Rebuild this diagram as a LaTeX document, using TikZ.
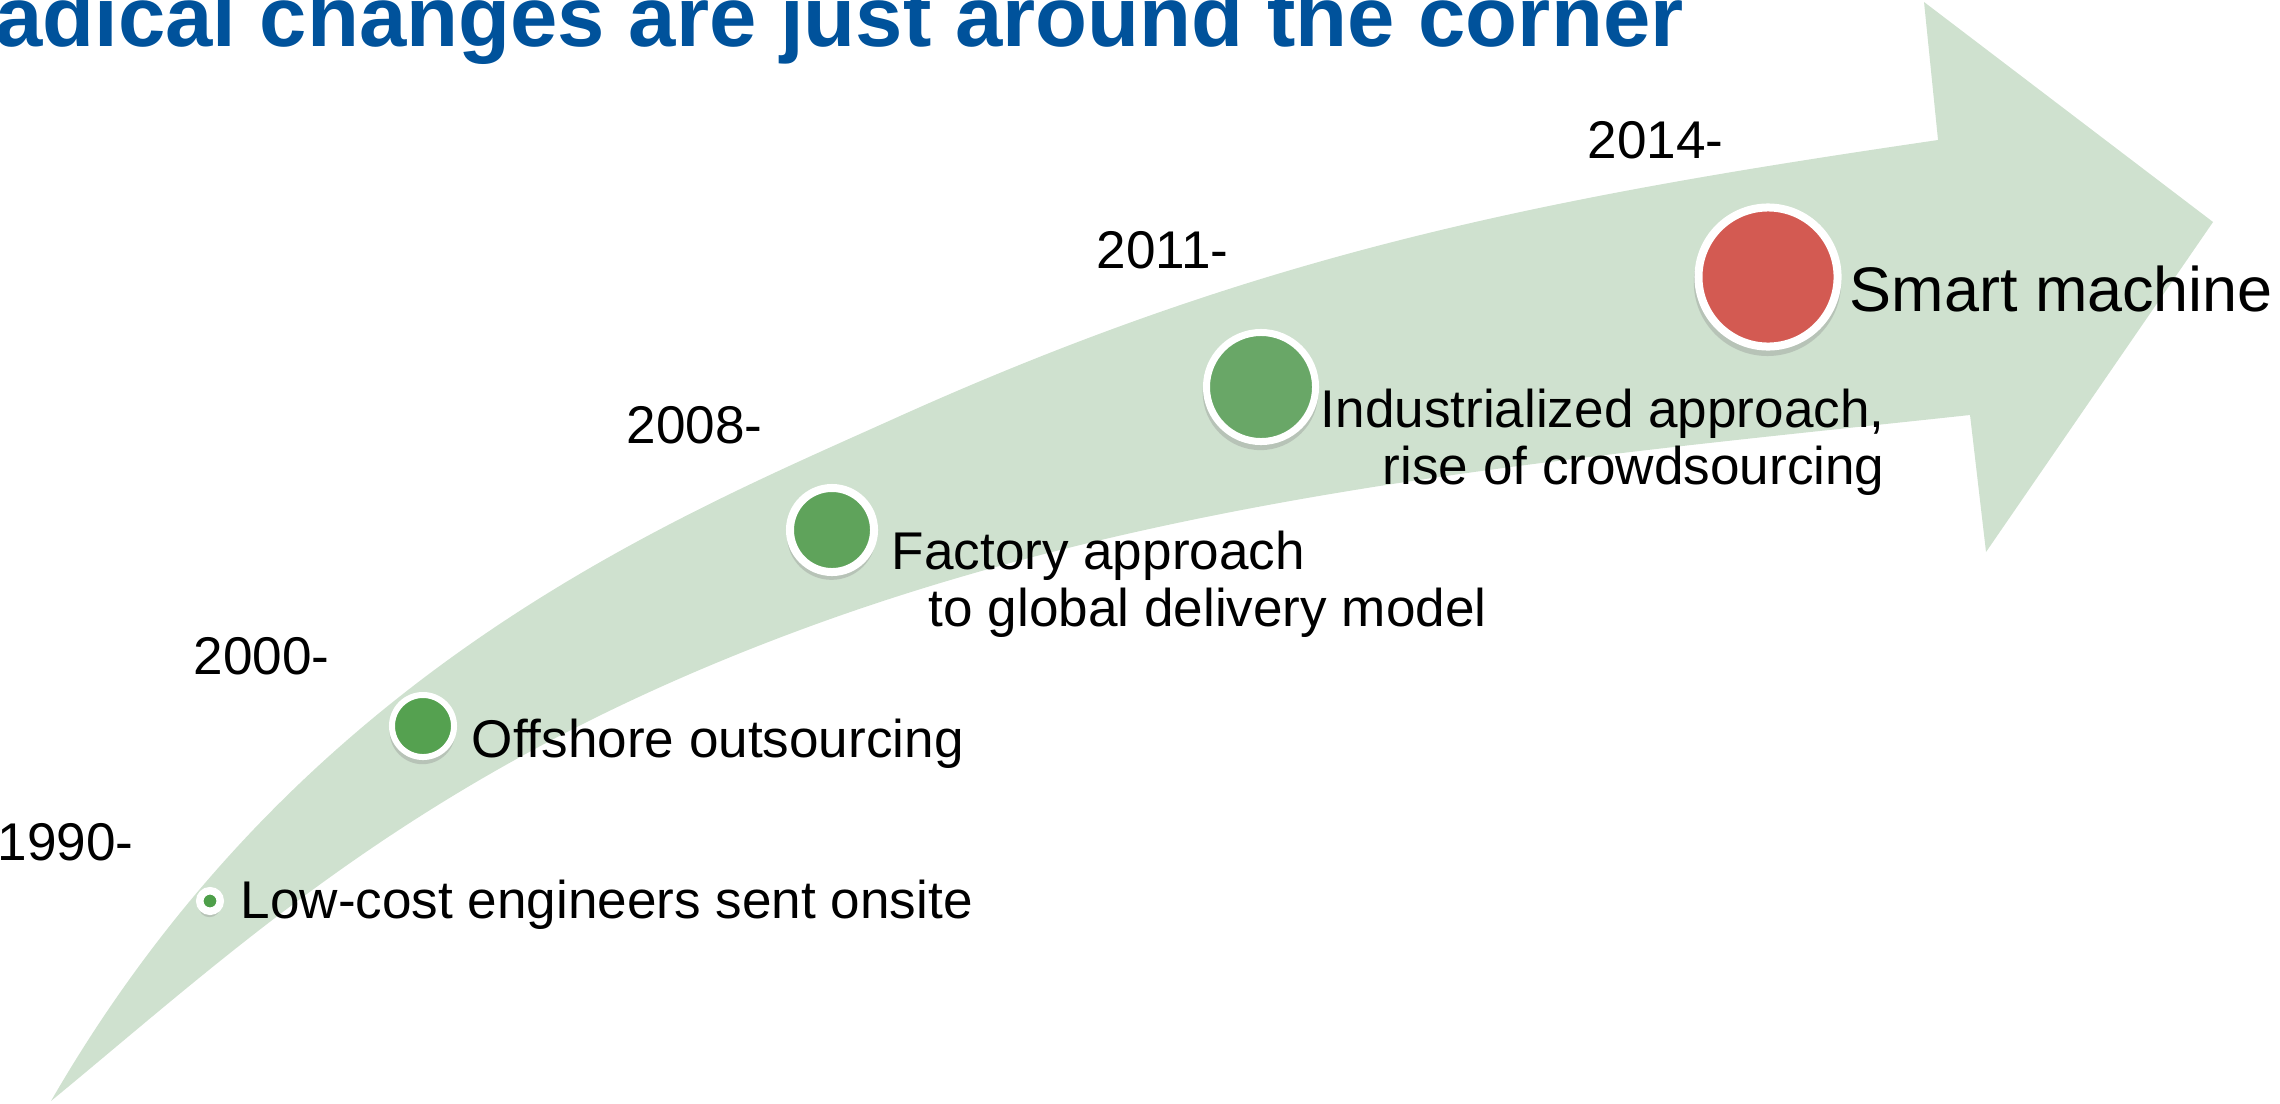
\documentclass[tikz,border=0pt]{standalone}
\usepackage{fontspec}
\setmainfont{Liberation Sans}
\usetikzlibrary{shadows}
\definecolor{bandgreen}{RGB}{207,225,207}
\definecolor{titleblue}{RGB}{0,82,155}
\definecolor{dotred}{RGB}{211,90,82}
\definecolor{dotgreenA}{RGB}{78,159,74}
\definecolor{dotgreenB}{RGB}{85,161,80}
\definecolor{dotgreenC}{RGB}{95,163,91}
\definecolor{dotgreenD}{RGB}{105,167,103}
\begin{document}
\begin{tikzpicture}[x=0.01cm,y=-0.01cm,
  milestone/.style={circle,draw=white,inner sep=0,fill=#1,
    drop shadow={shadow xshift=-0.005cm,shadow yshift=-0.05cm,shadow scale=1.06,opacity=0.3}},
  year/.style={anchor=base west,inner sep=0,font=\fontsize{15.1}{16.2}\selectfont},
  event/.style={anchor=base west,inner sep=0,font=\fontsize{15.1}{16.2}\selectfont}]
     \useasboundingbox (0,0) rectangle (2280,1103);
     \clip (0,0) rectangle (2280,1103);

     \fill[bandgreen] (51,1101) .. controls (301,668) and (672,519) .. (900,416)
       .. controls (1265,252) and (1542,198) .. (1938,140)
       -- (1924,2) -- (2213,222) -- (1986,552) -- (1970,415)
       .. controls (1572,458) and (1175,491) .. (800,630)
       .. controls (425,769) and (244,942) .. (51,1101) -- cycle;

     \node[anchor=base west,inner sep=0,text=titleblue,font=\bfseries\fontsize{24.2}{28}\selectfont] (title) at (-67,47) {Radical changes are just around the corner};

     \node[milestone=dotgreenA,minimum size=0.205cm,line width=0.075cm] (m1990) at (210,901) {};
     \node[milestone=dotgreenB,minimum size=0.62cm,line width=0.06cm] (m2000) at (423,726) {};
     \node[milestone=dotgreenC,minimum size=0.84cm,line width=0.08cm] (m2008) at (832,530) {};
     \node[milestone=dotgreenD,minimum size=1.09cm,line width=0.07cm] (m2011) at (1261,387) {};
     \node[milestone=dotred,minimum size=1.39cm,line width=0.08cm] (m2014) at (1768,277) {};

     \node[year] (y1990) at (-3,860) {1990-};
     \node[year] (y2000) at (193,674) {2000-};
     \node[year] (y2008) at (626,443) {2008-};
     \node[year] (y2011) at (1096,268) {2011-};
     \node[year] (y2014) at (1587,158) {2014-};

     \node[event] (e1990) at (240,918) {Low-cost engineers sent onsite};
     \node[event] (e2000) at (471,757) {Offshore outsourcing};
     \node[event,align=left] (e2008) at (891,626) {Factory approach\\\hspace*{0.37cm}to global delivery model};
     \node[event,align=right] (e2011) at (1320,484) {Industrialized approach,\\rise of crowdsourcing};
     \node[event,font=\fontsize{17.9}{19}\selectfont] (e2014) at (1849,311) {Smart machine};
\end{tikzpicture}
\end{document}
